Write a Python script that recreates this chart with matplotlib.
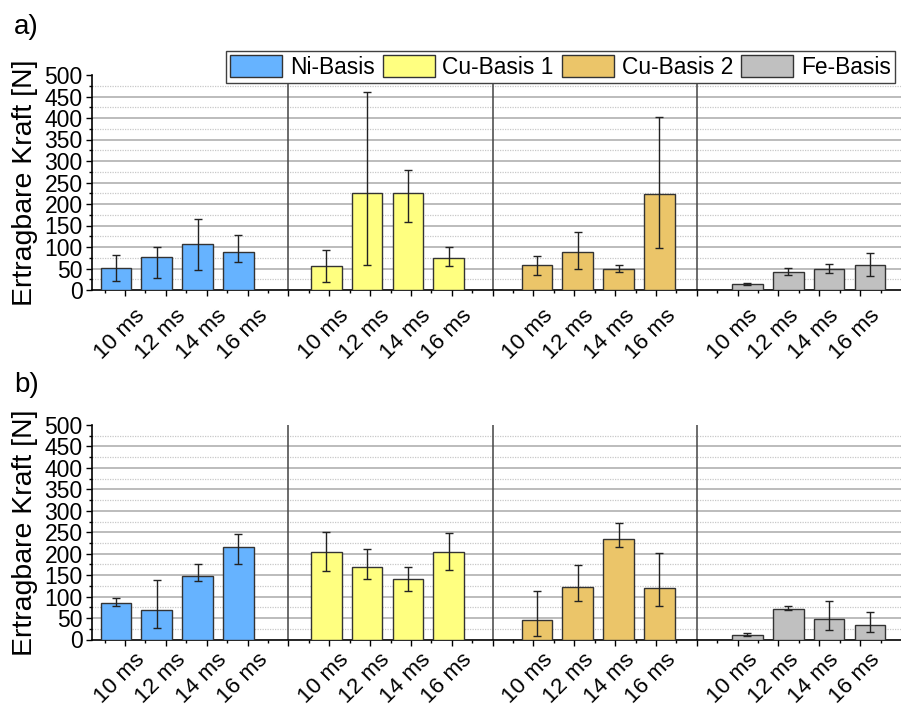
import numpy as np
import matplotlib.pyplot as plt
from matplotlib.patches import Patch
from matplotlib.ticker import MultipleLocator

plt.rcParams['font.family'] = ['Liberation Sans', 'DejaVu Sans']

# Werkstoffe (Legende) und Pulszeiten
series = ['Ni-Basis', 'Cu-Basis 1', 'Cu-Basis 2', 'Fe-Basis']
colors = ['#66b3ff', '#ffff80', '#ebc569', '#c0c0c0']
times = ['10 ms', '12 ms', '14 ms', '16 ms']

# a) Mittelwerte und Fehler (unten / oben) in N
a_ni = [52, 76, 108, 88]
a_ni_lo = [30, 47, 61, 24]
a_ni_hi = [29, 25, 56, 40]
a_cu1 = [55, 226, 226, 74]
a_cu1_lo = [36, 167, 69, 19]
a_cu1_hi = [37, 235, 54, 25]
a_cu2 = [57, 88, 50, 224]
a_cu2_lo = [21, 38, 7, 127]
a_cu2_hi = [21, 47, 8, 179]
a_fe = [14, 43, 50, 57]
a_fe_lo = [3, 9, 11, 24]
a_fe_hi = [3, 8, 11, 29]

# b)
b_ni = [85, 68, 149, 216]
b_ni_lo = [6, 41, 13, 40]
b_ni_hi = [11, 70, 26, 30]
b_cu1 = [205, 170, 140, 205]
b_cu1_lo = [46, 29, 26, 44]
b_cu1_hi = [45, 41, 30, 44]
b_cu2 = [46, 123, 234, 121]
b_cu2_lo = [37, 33, 19, 42]
b_cu2_hi = [67, 50, 37, 81]
b_fe = [11, 72, 47, 34]
b_fe_lo = [3, 4, 25, 17]
b_fe_hi = [4, 5, 43, 30]

panels = [
    ('a)', [(a_ni, a_ni_lo, a_ni_hi), (a_cu1, a_cu1_lo, a_cu1_hi),
            (a_cu2, a_cu2_lo, a_cu2_hi), (a_fe, a_fe_lo, a_fe_hi)]),
    ('b)', [(b_ni, b_ni_lo, b_ni_hi), (b_cu1, b_cu1_lo, b_cu1_hi),
            (b_cu2, b_cu2_lo, b_cu2_hi), (b_fe, b_fe_lo, b_fe_hi)]),
]

# Origin-artige Gruppenversaetze der Balken
offsets = [-0.225, -0.075, 0.085, 0.24]
W, H = 901, 709
fig = plt.figure(figsize=(W / 100, H / 100), dpi=100)

axes_px = [(75, 290), (425, 639.5)]   # (top, bottom) in pixels
label_px = [14, 372]
label_dy = [-16, -12.5]   # unten etwas hoeher, damit nichts abgeschnitten wird

for (tag, data), (top, bot), ly, dy in zip(panels, axes_px, label_px, label_dy):
    ax = fig.add_axes([92 / W, 1 - bot / H, 809 / W, (bot - top) / H])
    for g, (vals, lo, hi) in enumerate(data):
        base = np.arange(4) + 1 + 5 * g
        x = base + offsets[g]
        ax.bar(x, vals, width=0.75, color=colors[g], edgecolor='#333333',
               linewidth=1.0, zorder=3)
        ax.errorbar(x, vals, yerr=[lo, hi], fmt='none', ecolor='#222222',
                    elinewidth=1.0, capsize=2.6, capthick=1.0, zorder=4)
        # Pulszeit-Beschriftung, rechts neben dem Haupt-Tick
        for k, lab in zip(base, times):
            ax.annotate(lab, xy=(k, 0), xycoords=('data', 'axes fraction'),
                        xytext=(12, dy), textcoords='offset points',
                        rotation=45, rotation_mode='anchor', ha='right',
                        va='center', fontsize=16.2, annotation_clip=False)
    for s in [5, 10, 15]:
        ax.axvline(s, color='#444444', lw=1.1, zorder=2)

    ax.set_xlim(0.19, 20.0)
    ax.set_ylim(0, 500)
    ax.yaxis.set_major_locator(MultipleLocator(50))
    ax.yaxis.set_minor_locator(MultipleLocator(25))
    ax.set_xticks(np.arange(1, 20))
    ax.set_xticks(np.arange(0.5, 20, 1), minor=True)
    ax.set_xticklabels([])

    for yv in range(50, 500, 50):
        ax.axhline(yv, color='#b0b0b0', lw=1.2, zorder=1)
    for yv in range(25, 500, 50):
        ax.axhline(yv, color='#c8c8c8', lw=0.9, ls=(0, (1, 1)), zorder=1)

    ax.tick_params(axis='y', which='major', length=4.3, width=1, labelsize=16.5, pad=2.5)
    ax.tick_params(axis='y', which='minor', length=2.2, width=1)
    ax.tick_params(axis='x', which='major', length=4.3, width=1)
    ax.tick_params(axis='x', which='minor', length=2.2, width=1)
    for sp in ['top', 'right']:
        ax.spines[sp].set_visible(False)
    for sp in ['left', 'bottom']:
        ax.spines[sp].set_linewidth(1.2)
    ax.set_ylabel('Ertragbare Kraft [N]', fontsize=20.5)
    ax.yaxis.set_label_coords(-0.067, 0.5)
    fig.text(14 / W, 1 - ly / H, tag, fontsize=20, ha='left', va='top')

    if tag == 'a)':
        handles = [Patch(facecolor=c, edgecolor='#333333', lw=1.0) for c in colors]
        leg = fig.legend(handles, series, loc='upper left',
                         bbox_to_anchor=(226 / W, 1 - 51 / H), ncol=4,
                         fontsize=16.4, frameon=True, fancybox=False,
                         edgecolor='#404040', framealpha=1, borderpad=0.17,
                         handlelength=2.3, handleheight=1.12,
                         handletextpad=0.33, columnspacing=0.35,
                         borderaxespad=0)
        leg.get_frame().set_linewidth(1.0)

fig.savefig('out.png', dpi=100)
